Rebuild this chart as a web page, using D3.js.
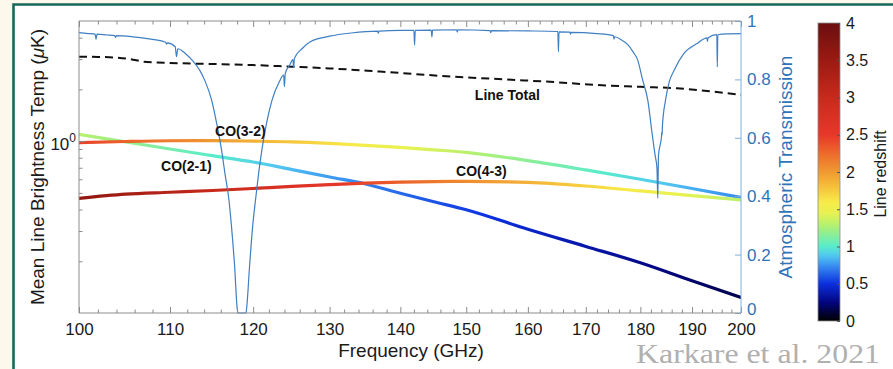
<!DOCTYPE html>
<html><head><meta charset="utf-8">
<script src="https://cdn.jsdelivr.net/npm/d3@7"></script>
<style>
body{margin:0;background:#fdf8ec;}
svg{display:block;font-family:"Liberation Sans",Arial,Helvetica,sans-serif;}
</style></head><body>
<svg id="c" width="893" height="369"></svg>
<script>
// ---------------- data ----------------
const xTickValues = [100,110,120,130,140,150,160,170,180,190,200];
const xTickLabels = ["100","110","120","130","140","150","160","170","180","190","200"];
const xMinorTicks = [102,104,106,108,112,114,116,118,122,124,126,128,132,134,136,138,142,144,146,148,152,154,156,158,162,164,166,168,172,174,176,178,182,184,186,188,192,194,196,198];
const leftMajorTicks = [1];
const leftMinorTicks = [0.2,0.3,0.4,0.5,0.6,0.7,0.8,0.9,2,3,4];
const rightTicks = [0,0.2,0.4,0.6,0.8,1];
const rightTickLabels = ["0","0.2","0.4","0.6","0.8","1"];
const cbTicks = [0,0.5,1,1.5,2,2.5,3,3.5,4];
const cbTickLabels = ["0","0.5","1","1.5","2","2.5","3","3.5","4"];

// CO line brightness (muK) vs observed frequency (GHz)
const coFreq = [100,105,110,115,120,125,130,135,140,145,150,160,170,180,190,200];
const co21 = [1.094,0.99,0.90,0.823,0.756,0.683,0.618,0.563,0.497,0.444,0.399,0.307,0.244,0.196,0.154,0.123];
const co32 = [0.98,0.995,1.005,1.007,1.0,0.99,0.97,0.945,0.92,0.89,0.86,0.77,0.68,0.60,0.53,0.47];
const co43 = [0.465,0.492,0.504,0.516,0.530,0.545,0.558,0.570,0.578,0.582,0.583,0.575,0.548,0.513,0.482,0.455];
const coRestFreq = [230.538, 345.796, 461.041]; // CO(2-1), CO(3-2), CO(4-3)

// Line total (dashed)
const totalFreq = [100,102,104,105.5,107,108.5,110,115,120,125,130,137,148,158,165,172,180,187,195,200];
const totalVals = [3.10,3.09,3.06,3.00,2.90,2.87,2.85,2.81,2.77,2.71,2.65,2.54,2.37,2.27,2.20,2.12,2.07,2.03,1.93,1.86];

// Atmospheric transmission (right axis)
const atmFreq = [100.0,101.0,101.7,101.8,101.9,103.0,103.8,103.9,104.0,106.0,108.0,109.5,109.6,109.7,110.6,110.75,110.9,111.8,112.7,113.5,114.1,114.9,115.5,116.1,116.5,117.0,117.3,117.7,118.0,118.1,119.1,119.2,119.55,119.95,120.3,120.7,121.1,121.7,122.4,123.3,123.9,124.0,124.1,124.7,125.1,125.2,125.3,126.3,127.4,130.0,133.0,136.7,136.8,136.9,140.0,142.0,142.1,142.2,144.6,144.7,144.8,148.5,148.6,148.7,153.8,153.9,154.0,160.0,165.1,165.2,165.3,167.2,167.3,167.4,172.0,175.0,175.1,175.2,176.5,177.6,178.6,179.5,180.4,181.4,182.3,182.8,183.15,183.31,183.45,184.0,184.1,184.15,184.2,184.8,185.5,186.5,188.4,191.1,193.0,193.1,193.2,195.0,195.1,195.2,197.0,200.0];
const atmTrans = [0.960,0.957,0.955,0.937,0.955,0.952,0.950,0.944,0.950,0.945,0.937,0.927,0.921,0.925,0.912,0.878,0.905,0.888,0.862,0.830,0.795,0.729,0.650,0.558,0.480,0.387,0.300,0.159,0.020,0.0,0.0,0.020,0.159,0.300,0.387,0.480,0.558,0.650,0.729,0.790,0.815,0.775,0.820,0.850,0.868,0.840,0.872,0.905,0.929,0.948,0.959,0.965,0.958,0.965,0.968,0.968,0.918,0.968,0.969,0.945,0.969,0.970,0.962,0.970,0.967,0.960,0.967,0.966,0.964,0.895,0.963,0.962,0.955,0.961,0.957,0.950,0.938,0.946,0.935,0.920,0.895,0.866,0.800,0.729,0.604,0.540,0.497,0.393,0.540,0.600,0.620,0.610,0.640,0.729,0.790,0.832,0.889,0.924,0.942,0.930,0.942,0.953,0.843,0.953,0.956,0.957];

// annotations: text, freq, value (left axis)
const annoText = ["CO(3-2)","CO(2-1)","CO(4-3)","Line Total"];
const annoFreq = [118.4,111.9,152.4,156.6];
const annoVal = [1.072,0.671,0.627,1.737];

// colormap (redshift -> colour)
const cmapZ = [0,0.1,0.25,0.5,0.75,0.88,1.0,1.25,1.45,1.6,1.8,2.0,2.25,2.5,3.0,3.5,4.0];
const cmapColors = ["#000000","#010230","#03057e","#0c2fe0","#3a92f0","#52c8f0","#58eccb","#a8f07a","#e8f250","#f7ea48","#f5c03a","#f09a32","#ec6a2b","#e8372a","#c82a1c","#9a1a12","#6b0f0f"];

// ---------------- layout ----------------
const L=79, R=741, T=21, B=313;
const svg = d3.select("#c");
const x = d3.scaleLog().domain([100,200]).range([L,R]);
const yL = d3.scaleLog().domain([0.1,5]).range([B,T]);
const yR = d3.scaleLinear().domain([0,1]).range([B,T]);
const cbS = d3.scaleLinear().domain([0,4]).range([321,23]);
const cmap = d3.scaleLinear().domain(cmapZ).range(cmapColors).clamp(true);

// frame
svg.append("rect").attr("x",13.5).attr("y",4.5).attr("width",893-13.5).attr("height",369-4.5).attr("fill","#ffffff");
svg.append("path").attr("d","M893,4.5H13.5V369").attr("fill","none").attr("stroke","#17695a").attr("stroke-width",2.6);

const defs = svg.append("defs");
defs.append("clipPath").attr("id","plotclip").append("rect").attr("x",L).attr("y",T-1).attr("width",R-L).attr("height",B-T+2);

// gradients for CO lines
const coSeries = [co21, co32, co43];
coSeries.forEach((vals,k)=>{
  const g = defs.append("linearGradient").attr("id","g"+k).attr("gradientUnits","userSpaceOnUse")
    .attr("x1",L).attr("x2",R).attr("y1",0).attr("y2",0);
  const N=80;
  for(let i=0;i<=N;i++){
    const px = L + (R-L)*i/N;
    const f = x.invert(px);
    const z = coRestFreq[k]/f - 1;
    g.append("stop").attr("offset",(i/N)).attr("stop-color",cmap(z));
  }
});

const plot = svg.append("g").attr("clip-path","url(#plotclip)");
const lineL = d3.line().x((d,i)=>x(coFreq[i])).y(d=>yL(d)).curve(d3.curveMonotoneX);
coSeries.forEach((vals,k)=>{
  plot.append("path").attr("d",lineL(vals)).attr("fill","none")
    .attr("stroke","url(#g"+k+")").attr("stroke-width",3.2).attr("stroke-linecap","round");
});

// line total
const lineT = d3.line().x((d,i)=>x(totalFreq[i])).y(d=>yL(d)).curve(d3.curveMonotoneX);
plot.append("path").attr("d",lineT(totalVals)).attr("fill","none").attr("stroke","#111")
  .attr("stroke-width",2).attr("stroke-dasharray","8,5");

// atmosphere
const lineA = d3.line().x((d,i)=>x(atmFreq[i])).y(d=>yR(d)).curve(d3.curveMonotoneX);
plot.append("path").attr("d",lineA(atmTrans)).attr("fill","none").attr("stroke","#3f7fc2").attr("stroke-width",1.2);

// ---------------- axes ----------------
const axisCol = "#8c8c8c";
function styleAxis(g, col){
  g.select(".domain").remove();
  g.selectAll(".tick line").attr("stroke",col||axisCol).attr("stroke-width",1);
}
// bottom
const gB = svg.append("g").attr("transform",`translate(0,${B})`)
  .call(d3.axisBottom(x).tickValues(xTickValues).tickSize(-6).tickPadding(10).tickFormat((d,i)=>xTickLabels[i]));
styleAxis(gB);
gB.selectAll("text").attr("font-size",17).attr("fill","#1a1a1a").attr("font-family","Liberation Sans, Arial, sans-serif");
const gBm = svg.append("g").attr("transform",`translate(0,${B})`)
  .call(d3.axisBottom(x).tickValues(xMinorTicks).tickSize(-3.5).tickFormat(""));
styleAxis(gBm);
// top
const gT = svg.append("g").attr("transform",`translate(0,${T})`)
  .call(d3.axisTop(x).tickValues(xTickValues).tickSize(-6).tickFormat(""));
styleAxis(gT);
const gTm = svg.append("g").attr("transform",`translate(0,${T})`)
  .call(d3.axisTop(x).tickValues(xMinorTicks).tickSize(-3.5).tickFormat(""));
styleAxis(gTm);
// left
const gL = svg.append("g").attr("transform",`translate(${L},0)`)
  .call(d3.axisLeft(yL).tickValues(leftMajorTicks).tickSize(-6).tickFormat(""));
styleAxis(gL);
const gLm = svg.append("g").attr("transform",`translate(${L},0)`)
  .call(d3.axisLeft(yL).tickValues(leftMinorTicks).tickSize(-3.5).tickFormat(""));
styleAxis(gLm);
leftMajorTicks.forEach(v=>{
  const t = svg.append("text").attr("x",L-3).attr("y",yL(v)+9).attr("text-anchor","end")
    .attr("font-size",17).attr("fill","#1a1a1a");
  t.append("tspan").text("10");
  t.append("tspan").attr("dy",-8).attr("font-size",12).text(String(Math.round(Math.log10(v))));
});
// right
const rightCol = "#7fb0de";
const gR = svg.append("g").attr("transform",`translate(${R},0)`)
  .call(d3.axisRight(yR).tickValues(rightTicks).tickSize(-6).tickPadding(6).tickFormat((d,i)=>rightTickLabels[i]));
styleAxis(gR, rightCol);
gR.selectAll("text").attr("font-size",17).attr("fill","#2f74b8").attr("font-family","Liberation Sans, Arial, sans-serif");
// nudge lowest label up slightly so it clears the "200" label
gR.selectAll(".tick").filter(d=>d===0).select("text").attr("y",-3.5);

// box lines
svg.append("line").attr("x1",L).attr("x2",R).attr("y1",B).attr("y2",B).attr("stroke",axisCol);
svg.append("line").attr("x1",L).attr("x2",R).attr("y1",T).attr("y2",T).attr("stroke",axisCol);
svg.append("line").attr("x1",L).attr("x2",L).attr("y1",T).attr("y2",B).attr("stroke",axisCol);
svg.append("line").attr("x1",R).attr("x2",R).attr("y1",T).attr("y2",B).attr("stroke",rightCol);

// axis titles
svg.append("text").attr("x",(L+R)/2+1).attr("y",357).attr("text-anchor","middle")
  .attr("font-size",19).attr("fill","#1a1a1a").text("Frequency (GHz)");
const yt = svg.append("text").attr("transform",`translate(44,${(T+B)/2}) rotate(-90)`)
  .attr("text-anchor","middle").attr("font-size",19).attr("fill","#1a1a1a");
yt.append("tspan").text("Mean Line Brightness Temp (");
yt.append("tspan").attr("font-style","italic").text("\u03bc");
yt.append("tspan").text("K)");
svg.append("text").attr("transform",`translate(792,${(T+B)/2}) rotate(-90)`)
  .attr("text-anchor","middle").attr("font-size",19).attr("fill","#2f74b8").text("Atmospheric Transmission");

// annotations
annoText.forEach((s,i)=>{
  svg.append("text").attr("x",x(annoFreq[i])).attr("y",yL(annoVal[i])).attr("text-anchor","middle")
    .attr("font-size",14).attr("font-weight","bold").attr("fill","#111").text(s);
});

// ---------------- colorbar ----------------
const cbX=818, cbW=22;
const cg = defs.append("linearGradient").attr("id","cbg").attr("x1",0).attr("y1",1).attr("x2",0).attr("y2",0);
for(let i=0;i<=80;i++){
  const z = 4*i/80;
  cg.append("stop").attr("offset",i/80).attr("stop-color",cmap(z));
}
svg.append("rect").attr("x",cbX).attr("y",cbS(4)).attr("width",cbW).attr("height",cbS(0)-cbS(4))
  .attr("fill","url(#cbg)").attr("stroke","#8c8c8c").attr("stroke-width",0.8);
const gC = svg.append("g").attr("transform",`translate(${cbX+cbW},0)`)
  .call(d3.axisRight(cbS).tickValues(cbTicks).tickSize(-3).tickPadding(6).tickFormat((d,i)=>cbTickLabels[i]));
gC.select(".domain").remove();
gC.selectAll(".tick line").attr("stroke","#555");
gC.selectAll("text").attr("font-size",16).attr("fill","#1a1a1a").attr("font-family","Liberation Sans, Arial, sans-serif");
svg.append("text").attr("transform",`translate(886,174) rotate(-90)`).attr("text-anchor","middle")
  .attr("font-size",16).attr("fill","#1a1a1a").text("Line redshift");

// credit
svg.append("text").attr("x",636).attr("y",363).attr("font-family","Liberation Serif, Times New Roman, serif")
  .attr("font-size",27).attr("fill","#b0b0b0").attr("textLength",244).attr("lengthAdjust","spacingAndGlyphs")
  .text("Karkare et al. 2021");
</script>
</body></html>
